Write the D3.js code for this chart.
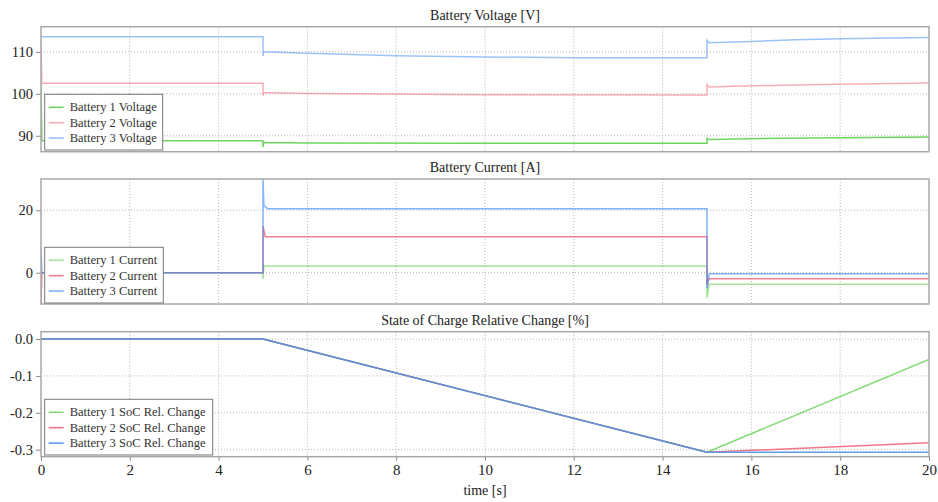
<!DOCTYPE html>
<html>
<head>
<meta charset="utf-8">
<script src="https://cdn.jsdelivr.net/npm/d3@7"></script>
<style>
  body { margin: 0; background: #fff; }
  svg text { font-family: "Liberation Serif", "Times New Roman", serif !important; fill: #222; }
  .grid line { stroke: #b5b5b5; stroke-dasharray: 1,2; }
  .axis path { display: none; }
  .axis line { stroke: #888; }
</style>
</head>
<body>
<div id="chart"></div>
<script>
// time axis
var timeTicks = [0, 2, 4, 6, 8, 10, 12, 14, 16, 18, 20];

// battery voltage [V]  ([time, value])
var volt1 = [[0,102.5],[0.02,88.8],[5,88.8],[5,87.3],[5.02,88.4],[6,88.3],[10,88.2],[15,88.2],[15,89.4],[15.05,89.1],[16,89.3],[18,89.5],[20,89.7]];
var volt2 = [[0,112.3],[0.02,102.5],[5,102.5],[5,99.6],[5.02,100.3],[6,100.1],[7,100.0],[10,99.8],[15,99.7],[15,102.2],[15.05,101.6],[16,101.9],[17,102.1],[18,102.3],[20,102.6]];
var volt3 = [[0,113.6],[5,113.6],[5,109.0],[5.02,110.0],[6,109.7],[8,109.1],[10,108.8],[12,108.6],[15,108.6],[15,112.8],[15.05,112.2],[16,112.5],[17,112.9],[18,113.1],[20,113.4]];

// battery current [A]
var curr1 = [[0,0],[5,0],[5,-2],[5.02,2.2],[15,2.2],[15,-8],[15.05,-3.7],[20,-3.7]];
var curr2 = [[0,-10],[0.02,0],[5,0],[5,15],[5.05,11.5],[15,11.5],[15,-4],[15.05,-1.9],[20,-1.9]];
var curr3 = [[0,8],[0.02,0],[5,0],[5,30],[5.02,21.5],[5.1,20.5],[15,20.5],[15,-5],[15.05,-0.3],[20,-0.3]];

// state of charge relative change [%]
var soc1 = [[0,0],[5,0],[15,-0.307],[20,-0.055]];
var soc2 = [[0,0],[5,0],[15,-0.307],[20,-0.281]];
var soc3 = [[0,0],[5,0],[15,-0.307],[20,-0.307]];

var voltTicks = [90, 100, 110];
var currTicks = [0, 20];
var socTicks = [0, -0.1, -0.2, -0.3];

var colors = ["#55cc44", "#f04a62", "#4a92f2"];

var W = 938, H = 502;
var margin = {left: 41, right: 9};
var width = W - margin.left - margin.right;

var svg = d3.select("#chart").append("svg")
    .attr("width", W)
    .attr("height", H);

var x = d3.scaleLinear().domain([0, 20]).range([margin.left, margin.left + width]);

var panels = [
  {title: "Battery Voltage [V]", top: 26.7, domain: [86.2, 116], ticks: voltTicks, fmt: d3.format("d"),
   series: [volt1, volt2, volt3],
   names: ["Battery 1 Voltage", "Battery 2 Voltage", "Battery 3 Voltage"],
   legend: {y: 94.3, w: 118}, opac: [0.85, 0.45, 0.55]},
  {title: "Battery Current [A]", top: 179, domain: [-10, 30], ticks: currTicks, fmt: d3.format("d"),
   series: [curr1, curr2, curr3],
   names: ["Battery 1 Current", "Battery 2 Current", "Battery 3 Current"],
   legend: {y: 247.3, w: 118.6}, opac: [0.55, 0.7, 0.7]},
  {title: "State of Charge Relative Change [%]", top: 331.7, domain: [-0.319, 0.02], ticks: socTicks,
   fmt: function(d) { return d3.format(".1f")(d).replace("\u2212", "-"); },
   series: [soc1, soc2, soc3],
   names: ["Battery 1 SoC Rel. Change", "Battery 2 SoC Rel. Change", "Battery 3 SoC Rel. Change"],
   legend: {y: 399.3, w: 168}, opac: [0.75, 0.75, 0.9]}
];

var ph = 125;

panels.forEach(function(p, i) {
  var y = d3.scaleLinear().domain(p.domain).range([p.top + ph, p.top]);
  var g = svg.append("g");

  svg.append("text")
      .attr("x", margin.left + width / 2)
      .attr("y", p.top - 7)
      .attr("text-anchor", "middle")
      .style("font-size", "14px")
      .text(p.title);

  // grid
  var grid = g.append("g").attr("class", "grid");
  grid.selectAll(".vx")
      .data(timeTicks.slice(1, -1))
      .enter().append("line")
      .attr("x1", function(d) { return x(d); })
      .attr("x2", function(d) { return x(d); })
      .attr("y1", p.top)
      .attr("y2", p.top + ph);
  grid.selectAll(".hy")
      .data(p.ticks)
      .enter().append("line")
      .attr("x1", margin.left)
      .attr("x2", margin.left + width)
      .attr("y1", function(d) { return y(d); })
      .attr("y2", function(d) { return y(d); });

  // y axis
  g.append("g")
      .attr("class", "axis")
      .attr("transform", "translate(" + margin.left + ",0)")
      .call(d3.axisLeft(y).tickValues(p.ticks).tickFormat(p.fmt).tickSize(5).tickPadding(3))
      .selectAll("text").style("font-size", "14.5px");

  if (i == 2) {
    g.append("g")
        .attr("class", "axis")
        .attr("transform", "translate(0," + (p.top + ph) + ")")
        .call(d3.axisBottom(x).tickValues(timeTicks).tickFormat(d3.format("d")).tickSize(4).tickPadding(4))
        .selectAll("text").style("font-size", "15px");
    svg.append("text")
        .attr("x", margin.left + width / 2)
        .attr("y", 495)
        .attr("text-anchor", "middle")
        .style("font-size", "14px")
        .text("time [s]");
  }

  var clipId = "clip" + i;
  svg.append("clipPath").attr("id", clipId)
    .append("rect")
      .attr("x", margin.left).attr("y", p.top)
      .attr("width", width).attr("height", ph);

  var line = d3.line()
      .x(function(d) { return x(d[0]); })
      .y(function(d) { return y(d[1]); });

  g.append("g")
      .attr("clip-path", "url(#" + clipId + ")")
    .selectAll("path")
      .data(p.series)
      .enter().append("path")
      .attr("d", line)
      .style("fill", "none")
      .style("stroke", function(d, j) { return colors[j]; })
      .style("stroke-opacity", function(d, j) { return p.opac[j]; })
      .style("stroke-width", "1.5px");

  // frame
  g.append("rect")
      .attr("x", margin.left)
      .attr("y", p.top)
      .attr("width", width)
      .attr("height", ph)
      .style("fill", "none")
      .style("stroke", "#a8a8a8")
      .style("stroke-width", "1.5px");

  // legend
  var lg = g.append("g").attr("transform", "translate(44.7," + p.legend.y + ")");
  lg.append("rect")
      .attr("width", p.legend.w)
      .attr("height", 55.7)
      .style("fill", "#fff")
      .style("stroke", "#777")
      .style("stroke-width", "1px");
  p.names.forEach(function(n, j) {
    var ry = 13 + j * 15.4;
    lg.append("line")
        .attr("x1", 4).attr("x2", 19)
        .attr("y1", ry).attr("y2", ry)
        .style("stroke", colors[j])
        .style("stroke-opacity", p.opac[j])
        .style("stroke-width", "1.6px");
    lg.append("text")
        .attr("x", 25)
        .attr("y", ry + 4)
        .style("font-size", "12.5px")
        .style("fill", "#333")
        .text(n);
  });
});
</script>
</body>
</html>
